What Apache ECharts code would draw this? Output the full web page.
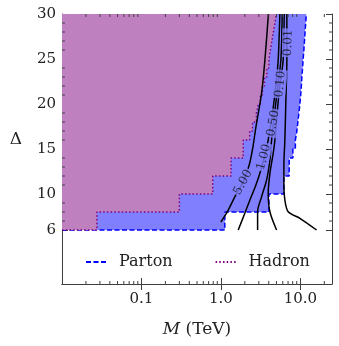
<!DOCTYPE html>
<html><head><meta charset="utf-8">
<script src="https://cdn.jsdelivr.net/npm/echarts@6/dist/echarts.min.js"></script>
<style>html,body{margin:0;padding:0;background:#fff}#c{width:339px;height:346px}</style>
</head><body><div id="c"></div>
<script>
// Region boundaries: [M (TeV), Delta]
const partonBoundary = [[0.01,6],[1.12,6],[1.12,8],[4.02,8],[4.02,10],[6.2,10],[6.2,12],[7.23,12],[7.23,14],
  [8.05,14],[8.05,15],[8.65,15],[8.65,16],[9.04,16],[9.04,17],[9.3,17],[9.3,18],[9.58,18],[9.58,19],[9.86,19],[9.86,20],
  [10.09,20],[10.09,21],[10.29,21],[10.29,22],[10.44,22],[10.44,23],[10.66,23],[10.66,24],[10.84,24],[10.84,25],
  [11.07,25],[11.07,26],[11.26,26],[11.26,27],[11.46,27],[11.46,28],[11.66,28],[11.66,29],[11.9,29],[11.9,30]];
const hadronBoundary = [[0.01,6],[0.0275,6],[0.0275,8],[0.3,8],[0.3,10],[0.79,10],[0.79,12],[1.34,12],[1.34,14],
  [1.91,14],[1.91,16],[2.3,16],[2.3,17],[2.5,17],[2.5,18],[2.8,18],[2.8,19],[2.96,19],[2.96,20],[3.14,20],[3.14,21],
  [3.33,21],[3.33,22],[3.53,22],[3.53,23],[3.79,23],[3.79,24],[4.02,24],[4.02,25],[4.2,25],[4.2,26],[4.38,26],[4.38,27],
  [4.58,27],[4.58,28],[4.78,28],[4.78,29],[4.99,29],[4.99,30]];
// Contour lines
const contour500 = [[1.0,6.89],[1.235,8.22],[1.5,9.7],[1.908,11.37],[2.27,13.22],[2.527,15.22],[2.756,17.44],[3.25,21.22],[3.577,24.89],[3.96,30]];
const contour100 = [[1.651,6],[2.004,7.89],[2.317,9.33],[2.756,11.0],[3.185,12.67],[3.577,14.33],[3.936,16],[4.51,19.33],[4.991,22.67],[5.258,24.89],[5.523,30]];
const contour050 = [[2.895,6],[2.895,8.03],[3.25,9.7],[3.757,11.56],[4.135,13.78],[4.342,16],[4.71,18.78],[5.212,22.11],[5.685,24.89],[5.903,30]];
const contour010 = [[5.02,6],[4.135,8.03],[3.936,10.08],[4.135,12.3],[4.548,14.52],[4.778,16],[5.137,19.33],[5.523,22.11],[6.075,24.89],[6.254,30]];
const contour001 = [[15.99,6],[9.86,7.3],[7.02,8.03],[6.38,9.33],[6.2,11],[6.2,13.22],[6.38,16],[6.57,20.44],[6.76,24.89],[6.76,30]];
const contourLabels = [["5.00",1.9,11.3,62],["1.00",3.47,14.1,75],["0.50",4.55,17.86,80],["0.10",5.6,22.2,84],["0.01",7.02,26.8,89]];
// Ticks
const xMajorTicks = [0.1,1,10];
const xTickLabels = {"0.1":"0.1","1":"1.0","10":"10.0"};
const xMinorTicks = [0.02,0.03,0.04,0.05,0.06,0.07,0.08,0.09,0.2,0.3,0.4,0.5,0.6,0.7,0.8,0.9,2,3,4,5,6,7,8,9,20];
const yMajorTicks = [6,10,15,20,25,30];
const yMinorTicks = [7,8,9,11,12,13,14,16,17,18,19,21,22,23,24,26,27,28,29];

const FONT = 'DejaVu Serif';
const AX = '#404040';
const chart = echarts.init(document.getElementById('c'));
const xBase = {type:'log', logBase:10, min:0.01, max:25,
  axisLine:{lineStyle:{color:AX,width:1}}, splitLine:{show:false},
  axisTick:{inside:true,length:6,customValues:xMajorTicks,lineStyle:{color:AX}}};
const yBase = {type:'value', min:0, max:30,
  axisLine:{show:true,lineStyle:{color:AX,width:1}}, splitLine:{show:false},
  axisTick:{inside:true,length:6,customValues:yMajorTicks,lineStyle:{color:AX}}};
function lineSeries(name, data, style, extra){
  return Object.assign({type:'line', name:name, data:data, symbol:'none', showSymbol:false, animation:false,
    lineStyle:style, emphasis:{disabled:true}, silent:true}, extra||{});
}
const contourStyle = {color:'#000', width:1.5};
chart.setOption({
  animation:false,
  grid:{left:62, right:7, top:14, bottom:62},
  legend:{left:80, top:249, itemWidth:22, itemHeight:12, itemGap:42,
    itemStyle:{opacity:0},
    data:['Parton','Hadron'], textStyle:{fontFamily:FONT, fontSize:16, color:'#222', padding:[0,0,0,6]}},
  xAxis:[
    Object.assign({}, xBase, {position:'bottom', name:'{i|M} (TeV)', nameLocation:'middle', nameGap:37,
      nameTextStyle:{fontFamily:FONT, fontSize:17, color:'#222', rich:{i:{fontFamily:FONT, fontStyle:'italic', fontSize:17, color:'#222'}}},
      axisLabel:{customValues:xMajorTicks, margin:8, fontFamily:FONT, fontSize:15, color:'#222',
        formatter:v=>xTickLabels[String(+v.toPrecision(3))] || ''}}),
    Object.assign({}, xBase, {position:'top', axisLabel:{show:false}})
  ],
  yAxis:[
    Object.assign({}, yBase, {position:'left', name:'Δ\n ', nameLocation:'middle', nameRotate:0, nameGap:40,
      nameTextStyle:{fontFamily:FONT, fontSize:17, lineHeight:18, color:'#222'},
      axisLabel:{customValues:yMajorTicks, margin:6, fontFamily:FONT, fontSize:15, color:'#222'}}),
    Object.assign({}, yBase, {position:'right', axisLabel:{show:false}})
  ],
  series:[
    lineSeries('Parton', partonBoundary, {color:'#0000ff', width:1.5, type:[5,2.5]},
      {itemStyle:{color:'#0000ff'}, areaStyle:{color:'#8080ff', opacity:1, origin:'end'}, z:1}),
    lineSeries('Hadron', hadronBoundary, {color:'#800080', width:1.5, type:[1.5,2.2]},
      {itemStyle:{color:'#800080'}, areaStyle:{color:'#bf80bf', opacity:1, origin:'end'}, z:2}),
    lineSeries('c5', contour500, contourStyle, {z:3, smooth:0.3}),
    lineSeries('c1', contour100, contourStyle, {z:3, smooth:0.3}),
    lineSeries('c05', contour050, contourStyle, {z:3, smooth:0.3}),
    lineSeries('c01', contour010, contourStyle, {z:3, smooth:0.3}),
    lineSeries('c001', contour001, contourStyle, {z:3, smooth:0.3}),
    {type:'scatter', name:'labels', z:4, silent:true, symbolSize:0, animation:false,
      data: contourLabels.map(d=>({value:[d[1],d[2]], name:d[0],
        label:{show:true, position:'inside', formatter:d[0], rotate:d[3], fontFamily:FONT, fontSize:12, color:'#111',
          backgroundColor:'#8080ff', padding:[0,1]}}))},
    {type:'custom', name:'minorTicks', z:5, silent:true, animation:false, clip:false,
      data: xMinorTicks.map(v=>[v,15,0]).concat(yMinorTicks.map(v=>[1,v,1])),
      renderItem:function(params, api){
        const cs = params.coordSys; const k = api.value(2);
        const st = {stroke:AX, lineWidth:1};
        if (k===0){
          const px = api.coord([api.value(0), api.value(1)])[0];
          return {type:'group', children:[
            {type:'line', shape:{x1:px,y1:cs.y+cs.height,x2:px,y2:cs.y+cs.height-3}, style:st},
            {type:'line', shape:{x1:px,y1:cs.y,x2:px,y2:cs.y+3}, style:st}]};
        }
        const py = api.coord([api.value(0), api.value(1)])[1];
        return {type:'group', children:[
          {type:'line', shape:{x1:cs.x,y1:py,x2:cs.x+3,y2:py}, style:st},
          {type:'line', shape:{x1:cs.x+cs.width,y1:py,x2:cs.x+cs.width-3,y2:py}, style:st}]};
      }}
  ]
});
</script></body></html>
